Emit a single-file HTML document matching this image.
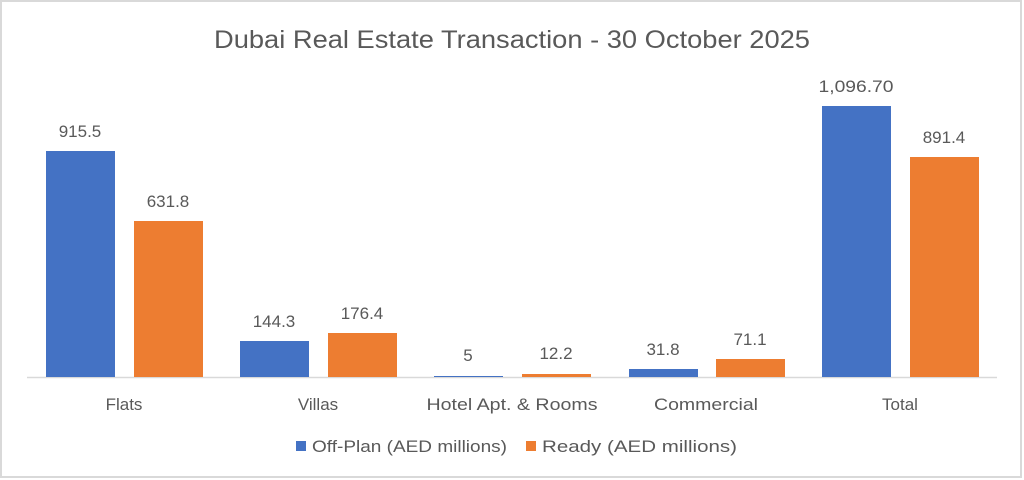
<!DOCTYPE html>
<html><head><style>
html,body{margin:0;padding:0;background:#fff;}
svg{display:block;}
text{font-family:"Liberation Sans",sans-serif;fill:#595959;}
</style></head><body>
<svg width="1024" height="480" viewBox="0 0 1024 480" xmlns="http://www.w3.org/2000/svg">
<rect x="0" y="0" width="1024" height="480" fill="#fff"/>
<rect x="1" y="1" width="1020" height="476" fill="none" stroke="#d9d9d9" stroke-width="2"/>
<text x="512" y="48" font-size="25" text-anchor="middle" textLength="596" lengthAdjust="spacingAndGlyphs">Dubai Real Estate Transaction - 30 October 2025</text>
<line x1="27" y1="377.5" x2="997" y2="377.5" stroke="#d9d9d9" stroke-width="1.5"/>
<g fill="#4472c4">
<rect x="46" y="151" width="69" height="226"/>
<rect x="240" y="341" width="69" height="36"/>
<rect x="434" y="376" width="69" height="1"/>
<rect x="629" y="369" width="69" height="8"/>
<rect x="822" y="106" width="69" height="271"/>
</g>
<g fill="#ed7d31">
<rect x="134" y="221" width="69" height="156"/>
<rect x="328" y="333" width="69" height="44"/>
<rect x="522" y="374" width="69" height="3"/>
<rect x="716" y="359" width="69" height="18"/>
<rect x="910" y="157" width="69" height="220"/>
</g>
<g font-size="17" text-anchor="middle" fill="#404040">
<text x="80" y="137">915.5</text>
<text x="168" y="207">631.8</text>
<text x="274" y="327">144.3</text>
<text x="362" y="319">176.4</text>
<text x="468" y="361">5</text>
<text x="556" y="359">12.2</text>
<text x="663" y="355">31.8</text>
<text x="750" y="345">71.1</text>
<text x="856" y="92" textLength="75" lengthAdjust="spacingAndGlyphs">1,096.70</text>
<text x="944" y="143">891.4</text>
</g>
<g font-size="17" text-anchor="middle">
<text x="124" y="410">Flats</text>
<text x="318" y="410">Villas</text>
<text x="512" y="410" textLength="171" lengthAdjust="spacingAndGlyphs">Hotel Apt. &amp; Rooms</text>
<text x="706" y="410" textLength="104" lengthAdjust="spacingAndGlyphs">Commercial</text>
<text x="900" y="410">Total</text>
</g>
<rect x="296" y="441" width="10" height="10" fill="#4472c4"/>
<text x="312" y="452" font-size="17" textLength="195" lengthAdjust="spacingAndGlyphs">Off-Plan (AED millions)</text>
<rect x="526" y="441" width="10" height="10" fill="#ed7d31"/>
<text x="542" y="452" font-size="17" textLength="195" lengthAdjust="spacingAndGlyphs">Ready (AED millions)</text>
</svg>
</body></html>
